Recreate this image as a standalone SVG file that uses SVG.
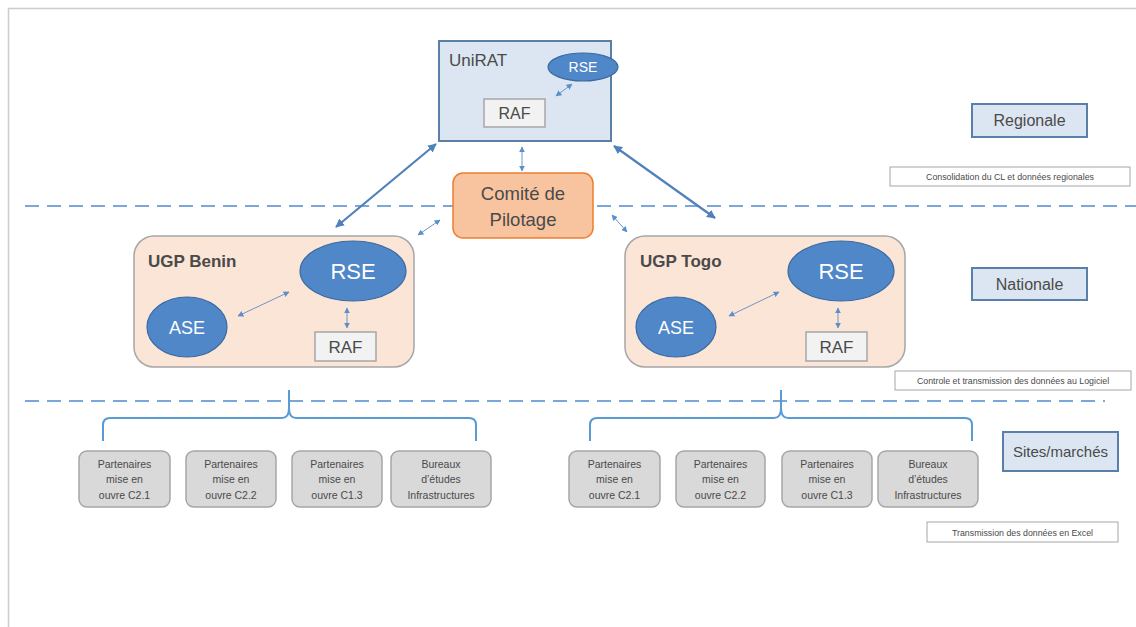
<svg xmlns="http://www.w3.org/2000/svg" width="1136" height="627" viewBox="0 0 1136 627">
<defs>
<marker id="ah" viewBox="0 0 10 10" refX="9" refY="5" markerWidth="4" markerHeight="4" orient="auto-start-reverse" markerUnits="strokeWidth"><path d="M0,0 L10,5 L0,10 z" fill="#4f81bd"/></marker>
<marker id="ahs" viewBox="0 0 10 10" refX="9" refY="5" markerWidth="6" markerHeight="6" orient="auto-start-reverse" markerUnits="strokeWidth"><path d="M0,0 L10,5 L0,10 z" fill="#5b8fcc"/></marker>
</defs>
<style>
text{font-family:"Liberation Sans",Arial,sans-serif;fill:#4a4a4a}
.lvl{fill:#dce6f2;stroke:#5a80aa;stroke-width:2}
.ugp{fill:#fbe5d6;stroke:#a6a6a6;stroke-width:1.5}
.ell{fill:#4f87c9;stroke:#3b6aa0;stroke-width:1.2}
.raf{fill:#f2f2f2;stroke:#a6a6a6;stroke-width:1.5}
.wt{fill:#ffffff}
.site{fill:#d9d9d9;stroke:#a6a6a6;stroke-width:1.5}
.note{fill:#ffffff;stroke:#a6a6a6;stroke-width:1}
.dash{stroke:#7aa6da;stroke-width:2;stroke-dasharray:14 8;fill:none}
.brace{stroke:#5b9bd5;stroke-width:2;fill:none}
.big{stroke:#4f81bd;stroke-width:2.2;fill:none;marker-start:url(#ah);marker-end:url(#ah)}
.sm{stroke:#6f96c6;stroke-width:1;fill:none;marker-start:url(#ahs);marker-end:url(#ahs)}
.s11{font-size:10.5px}
.nt{font-size:8.8px}
</style>
<rect width="1136" height="627" fill="#ffffff"/>
<path d="M8.5,627 V8.5 H1136" fill="none" stroke="#cccccc" stroke-width="1.5"/>

<g id="dividers">
<line class="dash" x1="25" y1="206" x2="1136" y2="206"/>
<line class="dash" x1="25" y1="401" x2="1105" y2="401"/>
</g>

<g id="unirat">
<rect class="lvl" x="439" y="41" width="172" height="100"/>
<text x="449" y="66" font-size="17">UniRAT</text>
<ellipse class="ell" cx="583" cy="67" rx="35" ry="14"/>
<text class="wt" x="583" y="72" font-size="14" text-anchor="middle">RSE</text>
<rect class="raf" x="484" y="99" width="61" height="28"/>
<text x="514.5" y="119" font-size="16" text-anchor="middle">RAF</text>
</g>

<g id="comite">
<rect x="453" y="173" width="140" height="65" rx="10" fill="#f8c4a0" stroke="#ed7d31" stroke-width="1.5"/>
<text x="523" y="200" font-size="18.5" text-anchor="middle">Comité de</text>
<text x="523" y="226" font-size="18.5" text-anchor="middle">Pilotage</text>
</g>

<g id="ugp-benin">
<rect class="ugp" x="134" y="236" width="280" height="131" rx="20"/>
<text x="148" y="267" font-size="17" font-weight="bold">UGP Benin</text>
<ellipse class="ell" cx="353" cy="271" rx="53" ry="30"/>
<text class="wt" x="353" y="279" font-size="22" text-anchor="middle">RSE</text>
<ellipse class="ell" cx="187" cy="327" rx="40" ry="30"/>
<text class="wt" x="187" y="334" font-size="18" text-anchor="middle">ASE</text>
<rect class="raf" x="315" y="332" width="61" height="29"/>
<text x="345.5" y="353" font-size="17" text-anchor="middle">RAF</text>
</g>

<g id="ugp-togo">
<rect class="ugp" x="625" y="236" width="280" height="131" rx="20"/>
<text x="640" y="267" font-size="17" font-weight="bold">UGP Togo</text>
<ellipse class="ell" cx="841" cy="271" rx="53" ry="30"/>
<text class="wt" x="841" y="279" font-size="22" text-anchor="middle">RSE</text>
<ellipse class="ell" cx="676" cy="327" rx="40" ry="30"/>
<text class="wt" x="676" y="334" font-size="18" text-anchor="middle">ASE</text>
<rect class="raf" x="806" y="332" width="61" height="29"/>
<text x="836.5" y="353" font-size="17" text-anchor="middle">RAF</text>
</g>

<g id="level-labels">
<rect class="lvl" x="972" y="104" width="115" height="33" stroke-width="1.5"/>
<text x="1029.5" y="126" font-size="16" text-anchor="middle">Regionale</text>
<rect class="lvl" x="972" y="268" width="115" height="32" stroke-width="1.5"/>
<text x="1029.5" y="290" font-size="16" text-anchor="middle">Nationale</text>
<rect class="lvl" x="1003" y="432" width="115" height="39" stroke-width="1.5"/>
<text x="1060.5" y="457" font-size="15" text-anchor="middle">Sites/marchés</text>
</g>

<g id="notes">
<rect class="note" x="890" y="167" width="240" height="19"/>
<text class="nt" x="1010" y="180" text-anchor="middle">Consolidation du CL et données regionales</text>
<rect class="note" x="895" y="371" width="236" height="19"/>
<text class="nt" x="1013" y="384" text-anchor="middle">Controle et transmission des données au Logiciel</text>
<rect class="note" x="927" y="522" width="191" height="20"/>
<text class="nt" x="1022.5" y="536" text-anchor="middle">Transmission des données en Excel</text>
</g>

<g id="sites-benin">
<rect class="site" x="79" y="451" width="91" height="56" rx="8"/>
<text class="s11" text-anchor="middle"><tspan x="124.5" y="468">Partenaires</tspan><tspan x="124.5" y="483">mise en</tspan><tspan x="124.5" y="499">ouvre C2.1</tspan></text>
<rect class="site" x="186" y="451" width="90" height="56" rx="8"/>
<text class="s11" text-anchor="middle"><tspan x="231" y="468">Partenaires</tspan><tspan x="231" y="483">mise en</tspan><tspan x="231" y="499">ouvre C2.2</tspan></text>
<rect class="site" x="292" y="451" width="90" height="56" rx="8"/>
<text class="s11" text-anchor="middle"><tspan x="337" y="468">Partenaires</tspan><tspan x="337" y="483">mise en</tspan><tspan x="337" y="499">ouvre C1.3</tspan></text>
<rect class="site" x="391" y="451" width="100" height="56" rx="8"/>
<text class="s11" text-anchor="middle"><tspan x="441" y="468">Bureaux</tspan><tspan x="441" y="483">d’études</tspan><tspan x="441" y="499">Infrastructures</tspan></text>
</g>

<g id="sites-togo">
<rect class="site" x="569" y="451" width="91" height="56" rx="8"/>
<text class="s11" text-anchor="middle"><tspan x="614.5" y="468">Partenaires</tspan><tspan x="614.5" y="483">mise en</tspan><tspan x="614.5" y="499">ouvre C2.1</tspan></text>
<rect class="site" x="676" y="451" width="89" height="56" rx="8"/>
<text class="s11" text-anchor="middle"><tspan x="720.5" y="468">Partenaires</tspan><tspan x="720.5" y="483">mise en</tspan><tspan x="720.5" y="499">ouvre C2.2</tspan></text>
<rect class="site" x="782" y="451" width="90" height="56" rx="8"/>
<text class="s11" text-anchor="middle"><tspan x="827" y="468">Partenaires</tspan><tspan x="827" y="483">mise en</tspan><tspan x="827" y="499">ouvre C1.3</tspan></text>
<rect class="site" x="878" y="451" width="100" height="56" rx="8"/>
<text class="s11" text-anchor="middle"><tspan x="928" y="468">Bureaux</tspan><tspan x="928" y="483">d’études</tspan><tspan x="928" y="499">Infrastructures</tspan></text>
</g>

<g id="connectors">
<line class="big" x1="436" y1="144" x2="336" y2="227"/>
<line class="big" x1="614" y1="146" x2="715" y2="218"/>
<line class="sm" x1="522" y1="147" x2="522" y2="171"/>
<line class="sm" x1="556" y1="96" x2="572" y2="84"/>
<line class="sm" x1="418" y1="235" x2="440" y2="220"/>
<line class="sm" x1="612" y1="215" x2="627" y2="232"/>
<line class="sm" x1="238" y1="316" x2="289" y2="292"/>
<line class="sm" x1="347" y1="308" x2="347" y2="328"/>
<line class="sm" x1="729" y1="316" x2="779" y2="292"/>
<line class="sm" x1="838" y1="308" x2="838" y2="328"/>
<path class="brace" d="M103,441 V425 Q103,418 110,418 H282 Q289,418 289,408 V390 M289,408 Q289,418 296,418 H469 Q476,418 476,425 V441"/>
<path class="brace" d="M590,441 V425 Q590,418 597,418 H774 Q781,418 781,408 V390 M781,408 Q781,418 788,418 H965 Q972,418 972,425 V441"/>
</g>
</svg>
